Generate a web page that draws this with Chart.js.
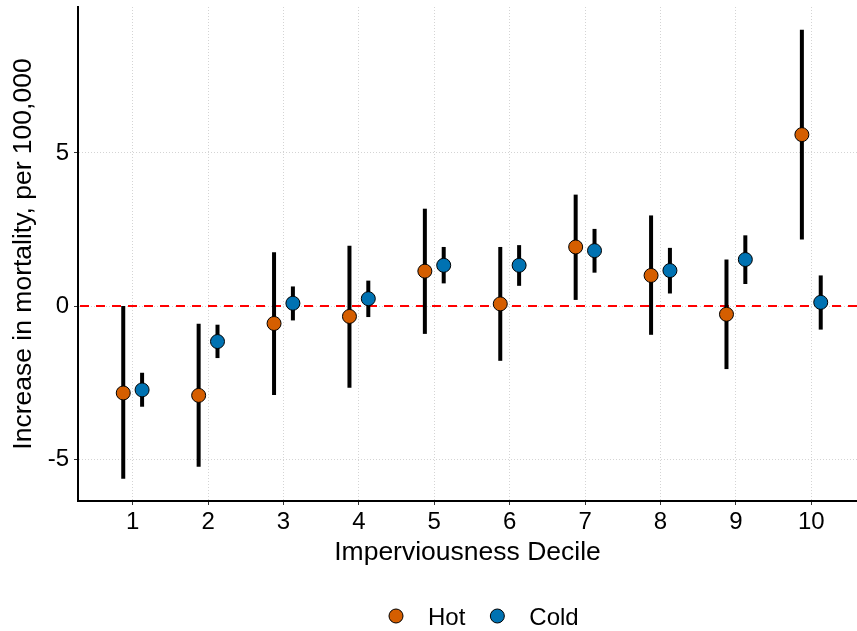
<!DOCTYPE html>
<html>
<head>
<meta charset="utf-8">
<title>Mortality by imperviousness decile</title>
<script src="https://cdn.jsdelivr.net/npm/chart.js@4/dist/chart.umd.min.js"></script>
<style>
  html, body { margin: 0; padding: 0; background: #fff; }
  #wrap { width: 857px; height: 631px; }
</style>
</head>
<body>
<div id="wrap"><canvas id="myChart" width="857" height="631"></canvas></div>
<script>
// Estimates and 95% intervals per decile
const deciles = [1, 2, 3, 4, 5, 6, 7, 8, 9, 10];
const hotEst  = [-2.84, -2.92, -0.57, -0.34, 1.14, 0.07, 1.93, 1.00, -0.27, 5.60];
const hotLow  = [-5.64, -5.25, -2.91, -2.67, -0.91, -1.79, 0.20, -0.94, -2.06, 2.17];
const hotHigh = [0.00, -0.58, 1.76, 1.97, 3.18, 1.93, 3.64, 2.96, 1.52, 9.03];
const coldEst  = [-2.74, -1.16, 0.09, 0.24, 1.33, 1.33, 1.81, 1.16, 1.52, 0.12];
const coldLow  = [-3.29, -1.70, -0.47, -0.36, 0.74, 0.66, 1.09, 0.41, 0.72, -0.77];
const coldHigh = [-2.18, -0.61, 0.64, 0.83, 1.93, 1.99, 2.52, 1.90, 2.31, 1.00];
const yTicks = [-5, 0, 5];

const DODGE = 0.125;
const FONT = "'Liberation Sans', Arial, Helvetica, sans-serif";

function points(est, shift) {
    return deciles.map((d, i) => ({x: d + shift, y: est[i]}));
}

// Zero line and vertical interval bars, drawn under the points
const errorBars = {
    id: 'errorBars',
    beforeDatasetsDraw(chart) {
        const {ctx, chartArea, scales: {x, y}} = chart;
        ctx.save();
        const y0 = y.getPixelForValue(0);
        ctx.strokeStyle = '#ff0000';
        ctx.lineWidth = 2;
        ctx.setLineDash([9, 7]);
        ctx.lineDashOffset = -2;
        ctx.beginPath();
        ctx.moveTo(chartArea.left, y0);
        ctx.lineTo(chartArea.right, y0);
        ctx.stroke();
        ctx.setLineDash([]);

        ctx.strokeStyle = '#000';
        ctx.lineWidth = 4;
        ctx.lineCap = 'butt';
        chart.data.datasets.forEach(ds => {
            ds.data.forEach((p, i) => {
                const px = x.getPixelForValue(p.x);
                ctx.beginPath();
                ctx.moveTo(px, y.getPixelForValue(ds.low[i]));
                ctx.lineTo(px, y.getPixelForValue(ds.high[i]));
                ctx.stroke();
            });
        });
        ctx.restore();
    }
};

// Legend row under the x axis title
const bottomLegend = {
    id: 'bottomLegend',
    afterDraw(chart) {
        const ctx = chart.ctx;
        const cy = 616;
        ctx.save();
        ctx.font = '24px ' + FONT;
        ctx.textBaseline = 'alphabetic';
        let xPos = 389;
        chart.data.datasets.forEach(ds => {
            ctx.beginPath();
            ctx.arc(xPos + 7, cy, 7, 0, Math.PI * 2);
            ctx.fillStyle = ds.backgroundColor;
            ctx.fill();
            ctx.lineWidth = 1;
            ctx.strokeStyle = '#000';
            ctx.stroke();
            ctx.fillStyle = '#000';
            const tx = xPos + 39;
            ctx.fillText(ds.label, tx, 625);
            xPos = tx + ctx.measureText(ds.label).width + 25;
        });
        ctx.restore();
    }
};

const gridOpts = {
    color: '#d4d4d4',
    lineWidth: 1,
    tickColor: '#333',
    tickLength: 4,
    tickWidth: 1
};

const ctx = document.getElementById('myChart').getContext('2d');
const chart = new Chart(ctx, {
    type: 'scatter',
    data: {
        datasets: [{
            label: 'Hot',
            data: points(hotEst, -DODGE),
            low: hotLow,
            high: hotHigh,
            backgroundColor: '#D55E00',
            borderColor: '#000',
            borderWidth: 1,
            pointRadius: 7,
            pointHoverRadius: 7
        }, {
            label: 'Cold',
            data: points(coldEst, DODGE),
            low: coldLow,
            high: coldHigh,
            backgroundColor: '#0072B2',
            borderColor: '#000',
            borderWidth: 1,
            pointRadius: 7,
            pointHoverRadius: 7
        }]
    },
    options: {
        responsive: false,
        animation: false,
        layout: {autoPadding: false, padding: {top: 7, right: 0, bottom: 62.3, left: 0}},
        plugins: {
            legend: {display: false},
            tooltip: {enabled: false}
        },
        scales: {
            x: {
                type: 'linear',
                min: 0.275,
                max: 10.606,
                afterBuildTicks: s => { s.ticks = deciles.map(v => ({value: v})); },
                afterFit: s => {
                    s.height = 67.7;
                    s.paddingLeft = 0;
                    s.paddingRight = 0;
                },
                grid: gridOpts,
                border: {display: true, color: '#000', width: 2, dash: [1, 2]},
                ticks: {
                    color: '#000',
                    padding: 3,
                    maxRotation: 0,
                    font: {family: FONT, size: 24},
                    callback: v => String(v)
                },
                title: {
                    display: true,
                    text: 'Imperviousness Decile',
                    color: '#000',
                    padding: 0,
                    font: {family: FONT, size: 26.5}
                }
            },
            y: {
                min: -6.37,
                max: 9.77,
                afterBuildTicks: s => { s.ticks = yTicks.map(v => ({value: v})); },
                afterFit: s => {
                    s.width = 78;
                    s.paddingTop = 0;
                    s.paddingBottom = 0;
                },
                grid: gridOpts,
                border: {display: true, color: '#000', width: 2, dash: [1, 2]},
                ticks: {
                    color: '#000',
                    padding: 5,
                    font: {family: FONT, size: 24},
                    callback: v => String(v)
                },
                title: {
                    display: true,
                    text: 'Increase in mortality, per 100,000',
                    color: '#000',
                    padding: {top: 8, bottom: 0},
                    font: {family: FONT, size: 26.5}
                }
            }
        }
    },
    plugins: [errorBars, bottomLegend]
});
</script>
</body>
</html>
